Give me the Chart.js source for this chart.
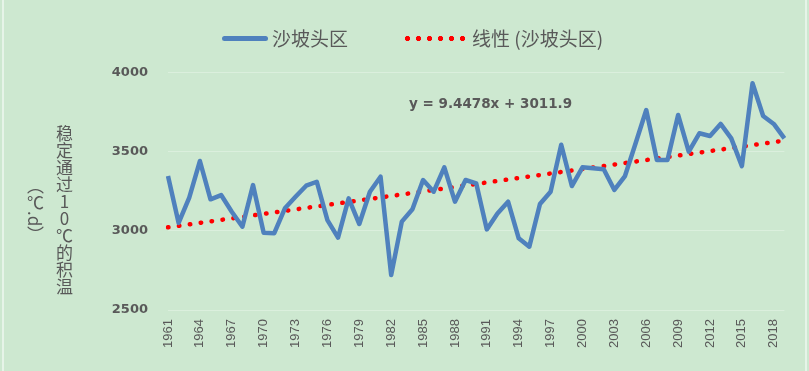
<!DOCTYPE html>
<html>
<head>
<meta charset="utf-8">
<script src="https://cdn.jsdelivr.net/npm/chart.js@4/dist/chart.umd.min.js"></script>
<style>
  html, body { margin: 0; padding: 0; }
  body { width: 809px; height: 371px; background: #cde8d0; position: relative; overflow: hidden; font-family: "Noto Sans CJK SC", sans-serif; color: #595959; }
  #wrap { position: absolute; left: 0; top: 0; width: 809px; height: 371px; }
  .edge { position: absolute; top: 0; width: 2px; height: 371px; background: #e6f4e8; }
  .leg { position: absolute; font-size: 19px; line-height: 20px; top: 28px; white-space: nowrap; }
  #legLine { position: absolute; left: 222px; top: 36px; width: 46px; height: 5px; border-radius: 3px; background: #4f81bd; }
  #legDots { position: absolute; left: 402px; top: 35px; width: 66px; height: 7px;
    background: radial-gradient(circle, #ff0000 2.4px, transparent 2.9px) repeat-x; background-size: 11px 7px; }
  #ytitle { position: absolute; left: 6px; top: 90px; height: 240px; width: 70px;
    display: flex; flex-direction: row-reverse; justify-content: flex-start; align-items: center; gap: 5px; }
  #ytitle div { writing-mode: vertical-rl; font-size: 17px; line-height: 24px; }
  #eq { position: absolute; left: 409px; top: 95px; font: bold 13.5px "DejaVu Sans", sans-serif; color: #595959; white-space: nowrap; }
</style>
</head>
<body>
<div id="wrap"><canvas id="chart" width="809" height="371"></canvas></div>
<div class="edge" style="left:2px"></div>
<div class="edge" style="left:805px"></div>
<div id="legLine"></div>
<div class="leg" style="left:272px">沙坡头区</div>
<div id="legDots"></div>
<div class="leg" style="left:472px">线性 (沙坡头区)</div>
<div id="ytitle">
  <div>稳定通过<span style="text-orientation: upright">10℃</span>的积温</div>
  <div>（℃.d）</div>
</div>
<div id="eq">y = 9.4478x + 3011.9</div>
<script>
const years = [];
for (let y = 1961; y <= 2019; y++) years.push(String(y));

// 稳定通过10℃的积温, 沙坡头区
const heatSum = [
  3346, 3050, 3210, 3441, 3199, 3226, 3121, 3026, 3289, 2988,
  2985, 3142, 3215, 3285, 3310, 3068, 2957, 3205, 3043, 3247,
  3342, 2721, 3058, 3136, 3321, 3247, 3401, 3184, 3321, 3300,
  3009, 3110, 3184, 2953, 2900, 3169, 3247, 3544, 3283, 3401,
  3395, 3389, 3258, 3346, 3553, 3763, 3447, 3447, 3732, 3500,
  3616, 3599, 3675, 3584, 3409, 3932, 3725, 3675, 3584
];

// trend line end points
const trendStart = 3022;
const trendEnd = 3570;

const yTicks = [2500, 3000, 3500, 4000];

const trend = years.map((_, i) => i === 0 ? trendStart : (i === years.length - 1 ? trendEnd : null));

const ctx = document.getElementById('chart').getContext('2d');
new Chart(ctx, {
  type: 'line',
  data: {
    labels: years,
    datasets: [
      {
        label: '沙坡头区',
        data: heatSum,
        borderColor: '#4f81bd',
        borderWidth: 4.5,
        borderJoinStyle: 'round',
        pointRadius: 0,
        tension: 0
      },
      {
        label: '线性 (沙坡头区)',
        data: trend,
        spanGaps: true,
        borderColor: '#ff0000',
        borderWidth: 4.5,
        borderDash: [0.5, 10.5],
        borderCapStyle: 'round',
        pointRadius: 0
      }
    ]
  },
  options: {
    responsive: false,
    animation: false,
    layout: { padding: { top: 72.5, right: 24, bottom: 0, left: 0 } },
    plugins: { legend: { display: false }, tooltip: { enabled: false } },
    scales: {
      x: {
        offset: false,
        grid: { display: false, drawTicks: false },
        border: { display: false },
        ticks: {
          autoSkip: false,
          maxRotation: 90,
          minRotation: 90,
          padding: 9,
          color: '#595959',
          font: { family: 'Liberation Sans', size: 13 },
          callback: function (v, i) { return i % 3 === 0 ? this.getLabelForValue(v) : ''; }
        },
        afterFit: s => { s.height = 61; }
      },
      y: {
        min: 2500,
        max: 4000,
        afterBuildTicks: s => { s.ticks = yTicks.map(v => ({ value: v })); },
        grid: { color: '#dbefdd', lineWidth: 1, drawTicks: false },
        border: { display: false },
        ticks: {
          padding: 20,
          color: '#595959',
          font: { family: 'DejaVu Sans', size: 13, weight: 'bold' },
          callback: v => String(v)
        },
        afterFit: s => { s.width = 168; }
      }
    }
  }
});
</script>
</body>
</html>
